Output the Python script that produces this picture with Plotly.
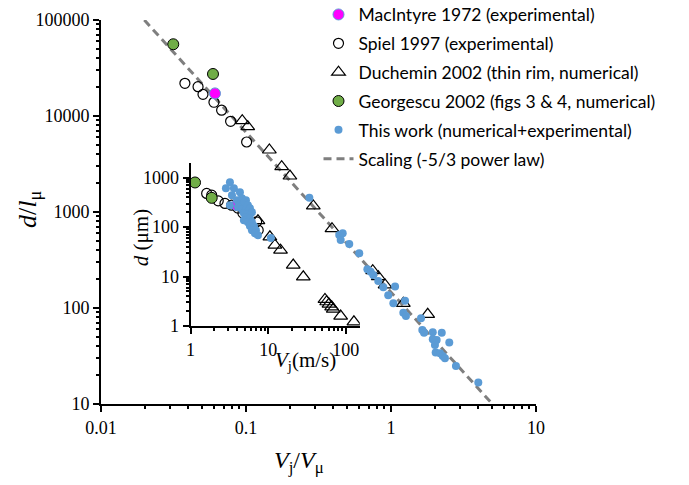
import plotly.graph_objects as go

# ---------------- data (main plot: d/l_mu vs Vj/V_mu) ----------------
macintyre_x = [0.0611]
macintyre_y = [17200]

spiel_x = [0.0379, 0.0467, 0.0505, 0.0601, 0.0679, 0.0783, 0.101]
spiel_y = [21900, 20200, 16800, 13900, 11500, 8810, 5360]

duchemin_x = [0.0942, 0.1028, 0.1449, 0.1762, 0.2009, 0.2911, 0.3917, 0.748, 0.817, 0.910, 1.216, 1.791]
duchemin_y = [8930, 7745, 4426, 2965, 2371, 1156, 670, 245, 212, 174, 112, 85.9]

georgescu_x = [0.0315, 0.0592]
georgescu_y = [55900, 27400]

thiswork_x = [0.2735, 0.4395, 0.4645, 0.4498, 0.5152, 0.6039, 0.6871, 0.7244, 0.7551, 0.8166,
              0.885, 0.957, 1.067, 1.038, 1.250, 1.216, 1.268, 1.611, 1.644, 1.690,
              1.941, 2.239, 1.941, 2.065, 2.523, 2.009, 2.032, 2.178, 2.275, 2.355,
              2.805, 4.000]
thiswork_y = [1409, 575, 600, 511, 465, 372, 253, 239, 221, 191,
              164, 136, 167, 112, 119, 89.3, 82.6, 78.2, 59.0, 55.3,
              55.8, 55.3, 47.2, 46.5, 43.6, 41.2, 34.3, 33.7, 31.6, 29.9,
              24.9, 16.7]

scaling_x = [0.0199, 5.0]
scaling_y = [100000, 10]

# ---------------- data (inset: d (um) vs Vj (m/s)) ----------------
in_macintyre_x = [3.92]
in_macintyre_y = [278]

in_spiel_x = [1.61, 1.87, 2.27, 2.77, 3.38, 4.07, 4.72, 7.09, 7.43]
in_spiel_y = [480, 443, 340, 301, 278, 242, 192, 128, 87]

in_duchemin_x = [7.37, 10.5, 12.2, 14.4, 21.0, 28.3, 53.8, 56.6, 60.6, 65.6, 68.8, 85.7, 127]
in_duchemin_y = [135, 63.7, 43.3, 34.3, 17.1, 9.9, 3.46, 3.10, 2.78, 2.45, 2.20, 1.59, 1.22]

in_georgescu_x = [1.14, 1.87]
in_georgescu_y = [800, 391]

in_thiswork_x = [3.21, 2.85, 3.61, 4.32, 3.41, 3.21, 3.95, 4.58, 5.16, 4.32,
                 4.86, 5.47, 4.07, 4.58, 5.16, 5.81, 4.86, 5.47, 6.17, 5.16,
                 5.81, 4.86, 5.47, 6.17, 5.81, 6.55, 6.17, 6.94, 6.74, 7.37, 10.8]
in_thiswork_y = [811, 614, 614, 509, 443, 278, 351, 385, 351, 292,
                 306, 278, 254, 231, 221, 242, 192, 183, 201, 159,
                 152, 138, 126, 126, 105, 105, 87, 87, 75.6, 68.9, 60]

main_xticks = [0.01, 0.1, 1, 10]
main_xtick_labels = ["0.01", "0.1", "1", "10"]
main_yticks = [10, 100, 1000, 10000, 100000]
main_ytick_labels = ["10", "100", "1000", "10000", "100000"]
inset_xticks = [1, 10, 100]
inset_xtick_labels = ["1", "10", "100"]
inset_yticks = [1, 10, 100, 1000]
inset_ytick_labels = ["1", "10", "100", "1000"]

# ---------------- styles ----------------
GREEN = "#70AD47"
BLUE = "#5B9BD5"
MAGENTA = "#FF00FF"
GRAY = "#7F7F7F"
SERIF = "Liberation Serif, Times New Roman, serif"
SANS = "Lato"

fig = go.Figure()

def add_sets(xa, ya, data, legend):
    (mx, my), (sx, sy), (dx, dy), (gx, gy), (tx, ty) = data
    fig.add_trace(go.Scatter(x=sx, y=sy, mode="markers", name="Spiel 1997 (experimental)",
                             marker=dict(symbol="circle-open", size=10, color="black", line=dict(width=1.2)),
                             xaxis=xa, yaxis=ya, showlegend=legend, legendgroup="b", legendrank=2))
    fig.add_trace(go.Scatter(x=dx, y=dy, mode="markers", name="Duchemin 2002 (thin rim, numerical)",
                             marker=dict(symbol="triangle-up-open", size=12, color="black", line=dict(width=1.2)),
                             xaxis=xa, yaxis=ya, showlegend=legend, legendgroup="c", legendrank=3))
    fig.add_trace(go.Scatter(x=mx, y=my, mode="markers", name="MacIntyre 1972 (experimental)",
                             marker=dict(symbol="circle", size=11, color=MAGENTA, line=dict(width=1, color=BLUE)),
                             xaxis=xa, yaxis=ya, showlegend=legend, legendgroup="a", legendrank=1))
    fig.add_trace(go.Scatter(x=gx, y=gy, mode="markers", name="Georgescu 2002 (figs 3 & 4, numerical)",
                             marker=dict(symbol="circle", size=11, color=GREEN, line=dict(width=1, color="black")),
                             xaxis=xa, yaxis=ya, showlegend=legend, legendgroup="d", legendrank=4))
    fig.add_trace(go.Scatter(x=tx, y=ty, mode="markers", name="This work (numerical+experimental)",
                             marker=dict(symbol="circle", size=8, color=BLUE),
                             xaxis=xa, yaxis=ya, showlegend=legend, legendgroup="e", legendrank=5))

fig.add_trace(go.Scatter(x=scaling_x, y=scaling_y, mode="lines", name="Scaling (-5/3 power law)",
                         line=dict(color=GRAY, width=3, dash="8px,5px"),
                         legendgroup="f", legendrank=6))

add_sets("x", "y", [(macintyre_x, macintyre_y), (spiel_x, spiel_y), (duchemin_x, duchemin_y),
                    (georgescu_x, georgescu_y), (thiswork_x, thiswork_y)], True)
add_sets("x2", "y2", [(in_macintyre_x, in_macintyre_y), (in_spiel_x, in_spiel_y), (in_duchemin_x, in_duchemin_y),
                      (in_georgescu_x, in_georgescu_y), (in_thiswork_x, in_thiswork_y)], False)

axis_common = dict(type="log", showgrid=False, zeroline=False, showline=True, linecolor="black",
                   linewidth=2, ticks="outside", ticklen=6, tickwidth=2, tickcolor="black",
                   tickmode="array", automargin=False,
                   tickfont=dict(family=SERIF, size=18, color="black"),
                   minor=dict(ticks="outside", ticklen=3, tickwidth=1.5, tickcolor="black",
                              tickmode="linear", dtick="D1", showgrid=False))

fig.update_layout(
    width=689, height=485,
    margin=dict(l=93, r=161, t=12, b=89, autoexpand=False),
    paper_bgcolor="white", plot_bgcolor="rgba(0,0,0,0)",
    font=dict(family=SERIF, color="black"),
    showlegend=True,
    legend=dict(x=0.500, y=1.061, xanchor="left", yanchor="top", traceorder="grouped",
                tracegroupgap=3.1, bgcolor="rgba(0,0,0,0)",
                font=dict(family=SANS, size=17.5, color="black")),
    xaxis=dict(axis_common, range=[-2, 1], tickvals=main_xticks, ticktext=main_xtick_labels,
               domain=[0, 1], anchor="y"),
    yaxis=dict(axis_common, range=[1, 5], tickvals=main_yticks, ticktext=main_ytick_labels,
               domain=[0, 1], anchor="x"),
    xaxis2=dict(axis_common, range=[0, 2.18], tickvals=inset_xticks, ticktext=inset_xtick_labels,
                domain=[0.206, 0.595], anchor="y2"),
    yaxis2=dict(axis_common, range=[0, 3.3], tickvals=inset_yticks, ticktext=inset_ytick_labels,
                domain=[0.203, 0.628], anchor="x2"),
)

ann = dict(xref="paper", yref="paper", showarrow=False, xanchor="center", yanchor="middle")
fig.add_annotation(ann, x=-0.1655, y=0.505, textangle=-90,
                   text="<i>d</i>/<i>l</i><sub>μ</sub>", font=dict(family=SERIF, size=26, color="black"))
fig.add_annotation(ann, x=0.455, y=-0.151,
                   text="<i>V</i><sub>j</sub>/<i>V</i><sub>μ</sub>", font=dict(family=SERIF, size=24, color="black"))
fig.add_annotation(ann, x=0.092, y=0.432, textangle=-90,
                   text="<i>d</i> (μm)", font=dict(family=SERIF, size=21, color="black"))
fig.add_annotation(ann, x=0.471, y=0.112,
                   text="<i>V</i><sub>j</sub>(m/s)", font=dict(family=SERIF, size=21, color="black"))

fig.write_html("out.html")
